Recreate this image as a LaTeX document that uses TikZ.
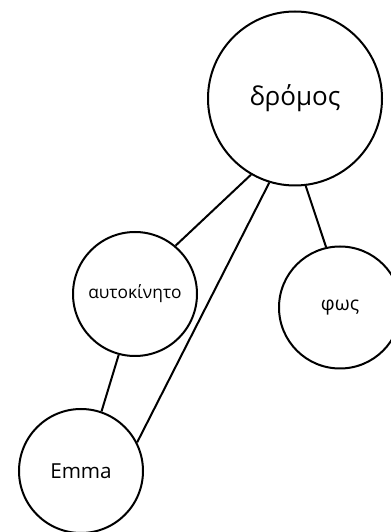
\documentclass[tikz,border=0pt]{standalone}
\usepackage{fontspec}
\setmainfont{Open Sans}
\usepackage{tikz}
\usetikzlibrary{positioning}
\tikzstyle{word} = [circle, draw, line width=1.5pt, inner sep=0pt, align=center]
\tikzstyle{link} = [line width=1.5pt]

\begin{document}
\begin{tikzpicture}[x=0.75pt, y=0.75pt]
\useasboundingbox (0, 0) rectangle (391, 532);

% Words
\node[word, minimum size=130.5pt, font=\fontsize{19.5}{22}\selectfont] (dromos) at (295, 433.5) {δρόμος};
\node[word, minimum size=93pt, font=\fontsize{13}{15}\selectfont] (autokinito) at (135, 238) {αυτοκίνητο};
\node[word, minimum size=91.5pt, font=\fontsize{14.5}{17}\selectfont] (fos) at (340, 224.5) {φως};
\node[word, minimum size=93pt, font=\fontsize{15.5}{18}\selectfont] (emma) at (81, 61) {Emma};

% Links
\draw[link] (dromos.240.8) -- (autokinito.50.9);
\draw[link] (dromos.253.5) -- (emma.27.8);
\draw[link] (dromos.277.7) -- (fos.103);
\draw[link] (autokinito.255.3) -- (emma.71.6);
\end{tikzpicture}
\end{document}
